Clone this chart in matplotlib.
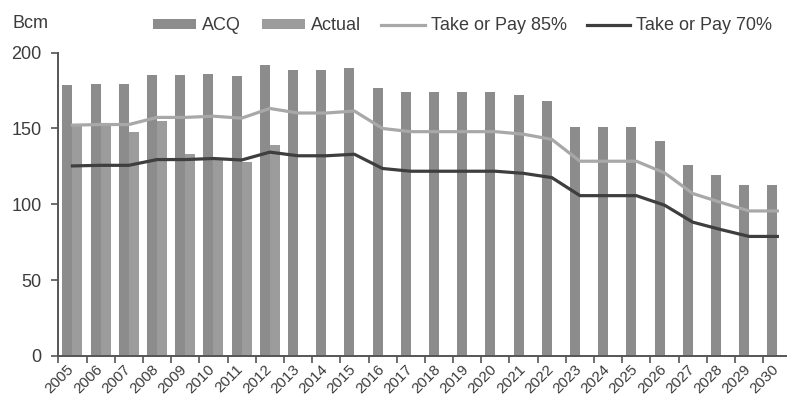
import matplotlib
matplotlib.use("Agg")
import matplotlib.pyplot as plt
import numpy as np

plt.rcParams["font.family"] = ["Liberation Sans", "DejaVu Sans"]

ACQ_COLOR = "#8c8c8c"
ACTUAL_COLOR = "#9c9c9c"
TOP85_COLOR = "#a8a8a8"
TOP70_COLOR = "#3e3e3e"
TEXT_COLOR = "#3c3c3c"
AXIS_COLOR = "#555555"

years = [str(y) for y in range(2005, 2031)]
acq = [179, 179.5, 179.5, 185, 185, 186, 184.5, 192, 188.5, 188.5, 190, 176.5, 174,
       174, 174, 174, 172, 168, 151, 151, 151, 142, 126, 119, 112.5, 112.5]
actual_years = years[:8]
actual = [152, 152, 148, 155, 133, 130, 128, 139]
top85 = [152.2, 152.6, 152.6, 157.3, 157.3, 158.1, 156.8, 163.2, 160.2, 160.2, 161.5,
         150.0, 147.9, 147.9, 147.9, 147.9, 146.2, 142.8, 128.4, 128.4, 128.4, 120.7,
         107.1, 101.2, 95.6, 95.6]
top70 = [125.3, 125.7, 125.7, 129.5, 129.5, 130.2, 129.2, 134.4, 132.0, 132.0, 133.0,
         123.6, 121.8, 121.8, 121.8, 121.8, 120.4, 117.6, 105.7, 105.7, 105.7, 99.4,
         88.2, 83.3, 78.8, 78.8]

fig = plt.figure(figsize=(7.87, 3.99), dpi=100)
ax = fig.add_axes([0.0741, 0.108, 0.9316, 0.760])

x = np.arange(len(years))
xa = np.arange(len(actual_years))
w = 0.355

h_acq = ax.bar(x - w / 2, acq, w, color=ACQ_COLOR, label="ACQ", zorder=2)
h_act = ax.bar(xa + w / 2, actual, w, color=ACTUAL_COLOR, label="Actual", zorder=2)
h85, = ax.plot(x, top85, color=TOP85_COLOR, lw=2.3, label="Take or Pay 85%", zorder=3)
h70, = ax.plot(x, top70, color=TOP70_COLOR, lw=2.3, label="Take or Pay 70%", zorder=4)

ax.set_xlim(-0.5, len(years) - 0.5)
ax.set_ylim(0, 200)
ax.set_yticks([0, 50, 100, 150, 200])

# category labels centred, tick marks on the boundaries
ax.set_xticks(x)
ax.set_xticklabels(years, rotation=45, ha="right", va="center", rotation_mode="anchor",
                   fontsize=11, color=TEXT_COLOR)
ax.tick_params(axis="x", which="major", length=0, pad=8)
ax.set_xticks(np.arange(len(years) + 1) - 0.5, minor=True)
ax.tick_params(axis="x", which="minor", length=5, width=1.2, color=AXIS_COLOR, direction="out")
shift = matplotlib.transforms.ScaledTranslation(-0.005, 0, fig.dpi_scale_trans)
for lbl in ax.get_xticklabels():
    lbl.set_transform(lbl.get_transform() + shift)

ax.tick_params(axis="y", length=5, width=1.2, color=AXIS_COLOR, labelsize=13,
               labelcolor=TEXT_COLOR, pad=7)

for side in ["top", "right"]:
    ax.spines[side].set_visible(False)
for side in ["left", "bottom"]:
    ax.spines[side].set_color(AXIS_COLOR)
    ax.spines[side].set_linewidth(1.4)

fig.text(0.016, 0.942, "Bcm", fontsize=13, color=TEXT_COLOR, va="center", ha="left")

fig.legend([h_acq, h_act, h85, h70], ["ACQ", "Actual", "Take or Pay 85%", "Take or Pay 70%"],
           loc="center", bbox_to_anchor=(0.588, 0.935), ncol=4, frameon=False,
           fontsize=13, handlelength=2.4, handleheight=0.55, handletextpad=0.33,
           columnspacing=1.13, labelcolor=TEXT_COLOR)

fig.savefig("out.png", dpi=100)
